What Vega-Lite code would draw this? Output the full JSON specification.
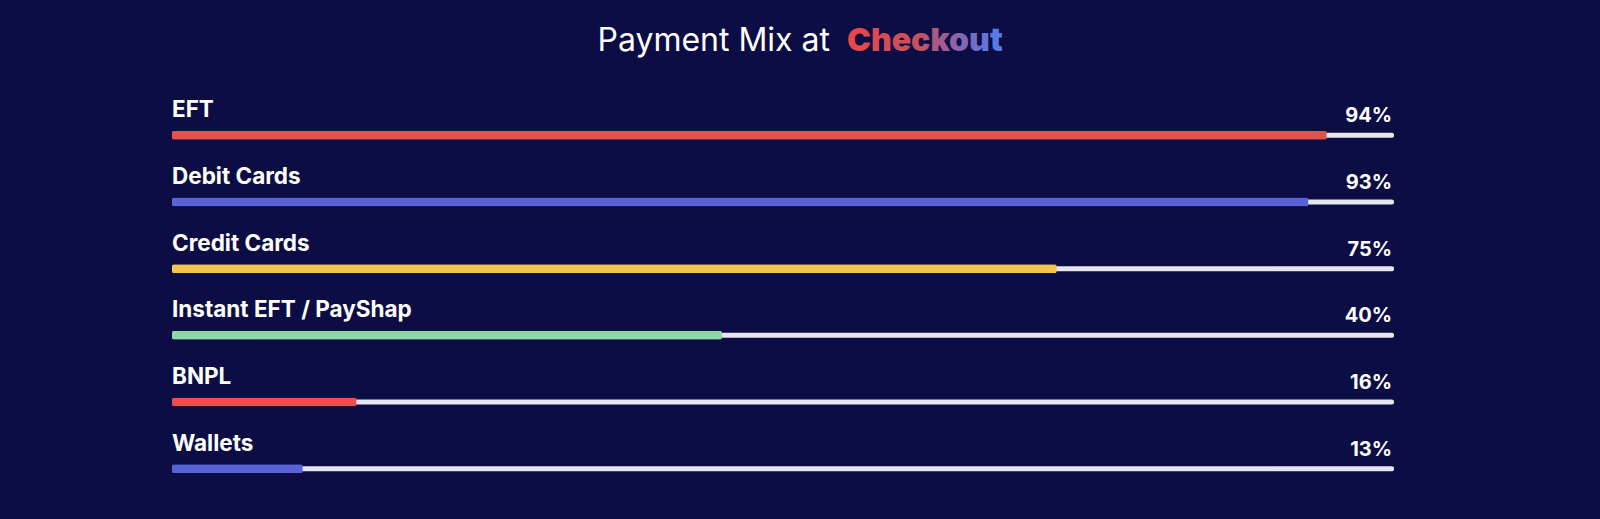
{
  "$schema": "https://vega.github.io/schema/vega-lite/v6.json",
  "description": "Payment Mix at Checkout: share of merchants offering each payment method.",
  "width": 1222,
  "height": 400,
  "autosize": "none",
  "padding": {"left": 172, "top": 102, "right": 206, "bottom": 17},
  "background": "#0c0d44",
  "config": {
    "view": {"stroke": null},
    "font": "Inter"
  },
  "data": {
    "values": [
      {"method": "EFT", "share": 0.94, "fill": 0.945, "group": "red"},
      {"method": "Debit Cards", "share": 0.93, "fill": 0.93, "group": "blue"},
      {"method": "Credit Cards", "share": 0.75, "fill": 0.724, "group": "yellow"},
      {"method": "Instant EFT / PayShap", "share": 0.40, "fill": 0.45, "group": "green"},
      {"method": "BNPL", "share": 0.16, "fill": 0.151, "group": "red"},
      {"method": "Wallets", "share": 0.13, "fill": 0.107, "group": "blue"}
    ]
  },
  "layer": [
    {
      "mark": {"type": "bar", "height": 5, "color": "#e6e6ee", "cornerRadius": 2},
      "encoding": {
        "y": {"field": "method", "type": "nominal", "sort": null, "axis": null,
              "scale": {"paddingInner": 0, "paddingOuter": 0}},
        "x": {"value": 0},
        "x2": {"value": "width"}
      }
    },
    {
      "mark": {"type": "bar", "height": 9, "cornerRadius": 2},
      "encoding": {
        "y": {"field": "method", "type": "nominal", "sort": null, "axis": null},
        "x": {"field": "fill", "type": "quantitative", "scale": {"domain": [0, 1]}, "axis": null},
        "color": {
          "field": "group",
          "type": "nominal",
          "legend": null,
          "scale": {
            "domain": ["red", "blue", "yellow", "green"],
            "range": ["#e9504a", "#5a62d8", "#f6c54e", "#8ed8a6"]
          }
        }
      }
    },
    {
      "mark": {
        "type": "text",
        "align": "left",
        "baseline": "alphabetic",
        "dy": -18,
        "fontSize": 22.5,
        "fontWeight": "bold",
        "color": "#ffffff"
      },
      "encoding": {
        "y": {"field": "method", "type": "nominal", "sort": null, "axis": null},
        "x": {"value": 0},
        "text": {"field": "method", "type": "nominal"}
      }
    },
    {
      "mark": {
        "type": "text",
        "align": "right",
        "baseline": "alphabetic",
        "dy": -13,
        "dx": -2,
        "fontSize": 20,
        "fontWeight": "bold",
        "color": "#ffffff"
      },
      "encoding": {
        "y": {"field": "method", "type": "nominal", "sort": null, "axis": null},
        "x": {"value": "width"},
        "text": {"field": "share", "type": "quantitative", "format": ".0%"}
      }
    },
    {
      "data": {"values": [{"part": "Payment Mix at"}]},
      "mark": {
        "type": "text",
        "align": "right",
        "baseline": "alphabetic",
        "fontSize": 32,
        "fontWeight": 400,
        "color": "#ffffff"
      },
      "encoding": {
        "x": {"value": 658},
        "y": {"value": -51},
        "text": {"field": "part", "type": "nominal"}
      }
    },
    {
      "data": {"values": [{"part": "Checkout"}]},
      "mark": {
        "type": "text",
        "align": "left",
        "baseline": "alphabetic",
        "fontSize": 32,
        "fontWeight": 900,
        "fill": {
          "gradient": "linear",
          "x1": 0, "x2": 1, "y1": 0, "y2": 0,
          "stops": [
            {"offset": 0, "color": "#ec4646"},
            {"offset": 0.45, "color": "#c8505f"},
            {"offset": 0.7, "color": "#8a64a8"},
            {"offset": 1, "color": "#4f7df0"}
          ]
        }
      },
      "encoding": {
        "x": {"value": 675},
        "y": {"value": -51},
        "text": {"field": "part", "type": "nominal"}
      }
    }
  ]
}
